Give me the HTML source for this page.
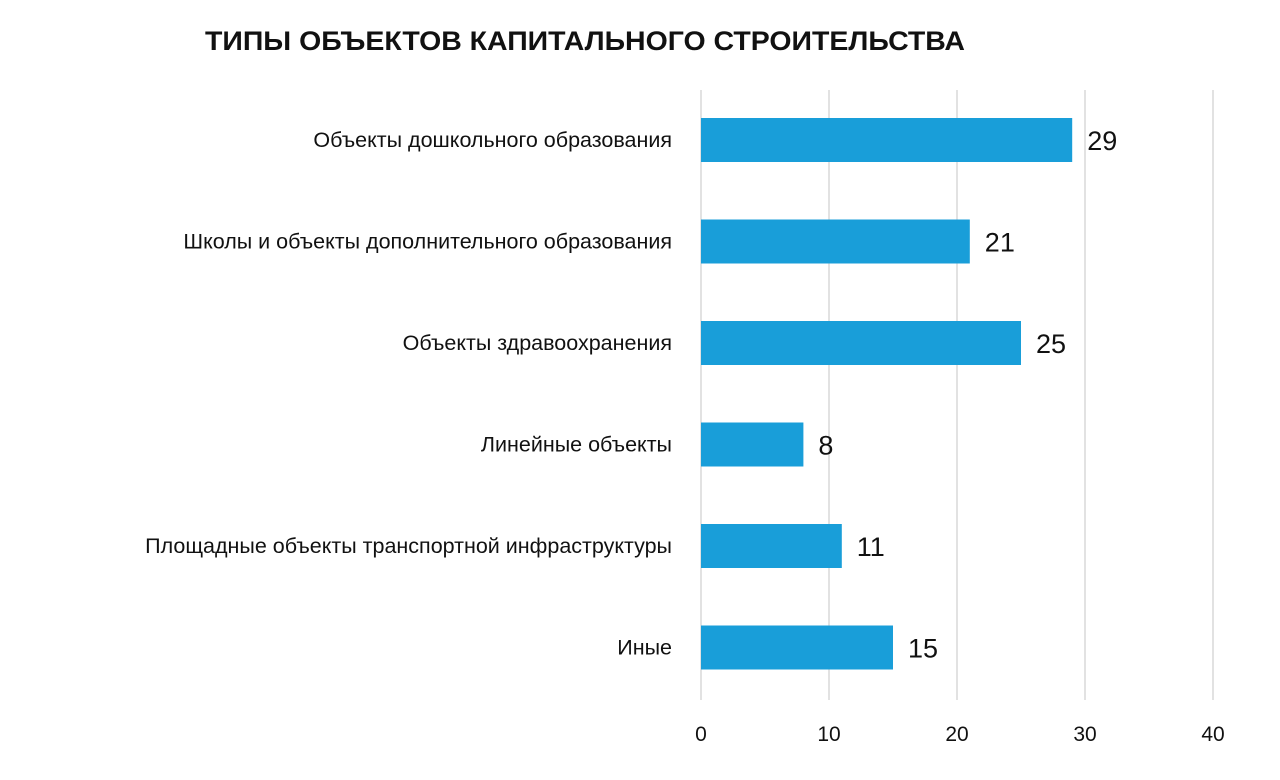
<!DOCTYPE html>
<html><head><meta charset="utf-8"><style>
body{margin:0;background:#fff;}
svg{display:block;font-family:"Liberation Sans","DejaVu Sans",sans-serif;}
</style></head><body>
<svg id="chart" width="1280" height="780" viewBox="0 0 1280 780">
<text x="205" y="50" font-size="27" font-weight="bold" fill="#111" textLength="760" lengthAdjust="spacingAndGlyphs">ТИПЫ ОБЪЕКТОВ КАПИТАЛЬНОГО СТРОИТЕЛЬСТВА</text>
<g id="grid"></g>
<g id="bars"></g>
<g id="labels"></g>
<g id="values"></g>
<g id="ticks"></g>
</svg>
<script>
const categories=["Объекты дошкольного образования","Школы и объекты дополнительного образования","Объекты здравоохранения","Линейные объекты","Площадные объекты транспортной инфраструктуры","Иные"];
const values=[29,21,25,8,11,15];
const tickValues=[0,10,20,30,40];
const NS="http://www.w3.org/2000/svg";
const x0=701, pxPer=12.8, yTop=90, yBottom=700, step=101.5, firstC=140, barH=44;
const xs=v=>x0+v*pxPer;
const yc=i=>firstC+i*step;
function mk(tag,attrs,parent,text){const e=document.createElementNS(NS,tag);for(const k in attrs)e.setAttribute(k,attrs[k]);if(text!==undefined)e.textContent=text;document.getElementById(parent).appendChild(e);return e;}
tickValues.forEach(t=>{
  const l=mk('line',{x1:xs(t),x2:xs(t),y1:yTop,y2:yBottom,stroke:'#d9d9d9','stroke-width':1.5},'grid');
  
  
  const tx=mk('text',{x:xs(t),y:741,'font-size':21,'text-anchor':'middle',fill:'#111'},'ticks',String(t));
  
  
});
categories.forEach((c,i)=>{
  const r=mk('rect',{x:xs(0),y:yc(i)-barH/2,width:xs(values[i])-xs(0),height:barH,fill:'#199ed9'},'bars');
  
  
  const lb=mk('text',{x:672,y:yc(i)+7,'font-size':21.5,'text-anchor':'end',fill:'#111'},'labels',c);
  
  
  const v=mk('text',{x:xs(values[i])+15,y:yc(i)+10,'font-size':27,fill:'#111'},'values',String(values[i]));
  
  
});
</script>
</body></html>
